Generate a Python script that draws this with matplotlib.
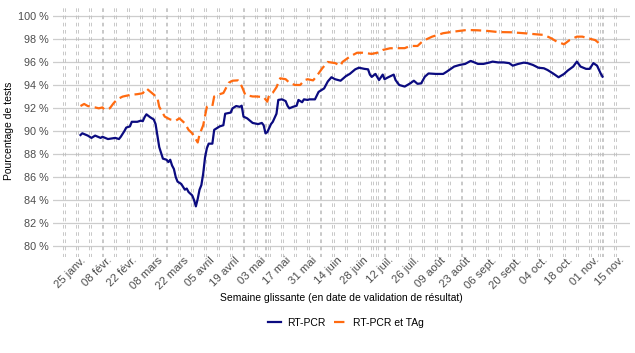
import numpy as np
import pandas as pd
import matplotlib
matplotlib.use("Agg")
import matplotlib.pyplot as plt
from matplotlib.lines import Line2D
from matplotlib.transforms import ScaledTranslation, blended_transform_factory

plt.rcParams.update({
    "font.family": ["Liberation Sans", "DejaVu Sans"],
    "font.size": 7.5,
    "lines.scale_dashes": False,
})

START = pd.Timestamp("2021-01-18")

# RT-PCR, days since 18 Jan 2021 / % of tests
pcr_days = [9, 10, 13, 15, 17, 20, 21, 24, 26, 28, 30, 31, 33, 34, 36, 37, 40, 42, 43, 44,
            45, 47, 49, 50, 51, 52, 53, 54, 56, 57, 58, 59, 60, 61, 62, 64, 66, 67, 68, 70,
            71, 72, 73, 74, 75, 76, 77, 78, 79, 81, 82, 85, 87, 88, 91, 92, 94, 96, 97, 98,
            100, 103, 106, 108, 109, 110, 111, 113, 114, 116, 117, 119, 121, 122, 123, 125, 127, 128, 130, 131,
            133, 134, 137, 139, 142, 144, 146, 148, 151, 154, 156, 159, 161, 164, 166, 167, 168, 170, 172, 174,
            175, 177, 180, 181, 183, 186, 189, 191, 193, 195, 197, 199, 203, 207, 209, 213, 216, 219, 222, 223,
            226, 229, 232, 234, 237, 240, 243, 245, 248, 251, 253, 256, 259, 262, 264, 267, 270, 273, 275, 278,
            280, 282, 285, 287, 289, 291, 293, 294]
pcr_vals = [89.65, 89.8, 89.6, 89.4, 89.6, 89.4, 89.5, 89.3, 89.35, 89.4, 89.3, 89.5, 90.0, 90.3, 90.4, 90.8, 90.8, 90.9, 90.85, 91.2,
            91.45, 91.2, 91.0, 90.6, 89.6, 88.6, 88.1, 87.6, 87.5, 87.3, 87.5, 87.0, 86.7, 86.0, 85.6, 85.4, 84.9, 85.0, 84.7, 84.4,
            84.0, 83.45, 84.1, 84.9, 85.3, 86.3, 87.7, 88.5, 88.9, 88.9, 90.1, 90.4, 90.5, 91.5, 91.6, 91.97, 92.17, 92.1, 92.2, 91.25,
            91.1, 90.7, 90.6, 90.7, 90.5, 89.8, 89.9, 90.6, 90.8, 91.5, 92.7, 92.75, 92.6, 92.2, 91.97, 92.1, 92.2, 92.7, 92.5, 92.75,
            92.7, 92.75, 92.75, 93.4, 93.7, 94.3, 94.67, 94.5, 94.37, 94.78, 94.96, 95.36, 95.5, 95.4, 95.36, 94.9, 94.7, 94.96, 94.43, 94.9,
            94.5, 94.67, 94.9, 94.43, 94.0, 93.86, 94.14, 94.37, 94.1, 94.14, 94.72, 95.0, 94.96, 94.96, 95.16, 95.6, 95.74, 95.83, 96.09, 96.03,
            95.83, 95.83, 95.94, 96.03, 95.96, 95.96, 95.9, 95.68, 95.83, 95.94, 95.9, 95.74, 95.5, 95.45, 95.3, 95.0, 94.67, 94.96, 95.25, 95.6,
            96.03, 95.6, 95.4, 95.4, 95.9, 95.68, 95.0, 94.72]

# RT-PCR et TAg
tag_days = [9, 11, 13, 17, 19, 21, 22, 25, 27, 29, 32, 36, 40, 43, 45, 48, 51, 52, 55, 58,
            61, 63, 66, 68, 70, 73, 74, 76, 78, 81, 82, 85, 87, 90, 92, 95, 97, 99, 103, 105,
            109, 111, 112, 114, 116, 118, 121, 123, 126, 129, 131, 133, 136, 138, 141, 144, 148, 151, 152, 156,
            160, 163, 168, 171, 174, 178, 184, 186, 189, 193, 196, 201, 207, 213, 220, 226, 231, 237, 244, 251,
            258, 262, 266, 269, 273, 276, 280, 283, 286, 290, 294]
tag_vals = [92.17, 92.35, 92.17, 92.05, 91.97, 92.05, 91.87, 91.97, 92.4, 92.75, 92.99, 93.13, 93.2, 93.28, 93.7, 93.3, 92.9, 92.1, 91.25, 91.0,
            90.9, 91.1, 90.67, 90.1, 89.8, 89.0, 89.7, 90.5, 92.1, 92.17, 93.0, 93.2, 93.3, 94.2, 94.37, 94.4, 93.9, 93.13, 93.0, 93.0,
            92.95, 92.55, 93.13, 93.33, 93.8, 94.58, 94.5, 94.2, 94.0, 94.0, 94.4, 94.5, 94.4, 94.78, 95.45, 96.0, 95.9, 95.68, 96.0, 96.46,
            96.8, 96.8, 96.7, 96.8, 97.04, 97.19, 97.2, 97.2, 97.39, 97.39, 97.83, 98.2, 98.5, 98.64, 98.78, 98.75, 98.7, 98.6, 98.58, 98.5,
            98.4, 98.35, 98.06, 97.77, 97.54, 97.9, 98.2, 98.2, 98.06, 97.9, 97.39]

tick_labels = ["25 janv.", "08 févr.", "22 févr.", "08 mars", "22 mars", "05 avril", "19 avril",
               "03 mai", "17 mai", "31 mai", "14 juin", "28 juin", "12 juil.", "26 juil.",
               "09 août", "23 août", "06 sept.", "20 sept.", "04 oct.", "18 oct.", "01 nov.", "15 nov."]
y_ticks = list(range(80, 101, 2))
extra_days = [110, 171, 292]

BLUE = "#0b0b80"
ORANGE = "#ff6a10"
GREY = "#4d4d4d"


def to_dates(days):
    return START + pd.to_timedelta(np.array(days), unit="D")


fig = plt.figure(figsize=(6.35, 3.53), dpi=100)
ax = fig.add_axes([53 / 635, 1 - 257 / 353, 577 / 635, 252 / 353])

# weekly dashed (double) vertical grid
weeks = pd.date_range(START, periods=44, freq="7D")
extras = to_dates(extra_days)
for w in list(weeks) + list(extras):
    for off in (-0.5, 0.5):
        ax.axvline(w + pd.Timedelta(hours=24 * off), color="#bfbfbf", lw=0.6,
                   ls=(0, (2.6, 2.6)), zorder=1)

ax.plot(to_dates(pcr_days), pcr_vals, color=BLUE, lw=1.6, zorder=3,
        solid_joinstyle="round")
ax.plot(to_dates(tag_days), tag_vals, color=ORANGE, lw=1.6, ls=(0, (7.5, 3.6)),
        zorder=3, dash_capstyle="butt")

ax.set_ylim(79.05, 100.95)
ax.set_xlim(START - pd.Timedelta(days=6), START + pd.Timedelta(days=309))
ax.set_yticks(y_ticks)
ax.set_yticklabels([f"{v} %" for v in y_ticks])
ax.yaxis.grid(True, color="#cdcdcd", lw=0.9, zorder=0)
ax.set_axisbelow(True)

# rotated date labels, every second week
ax.set_xticks([])
label_dates = pd.date_range(START + pd.Timedelta(days=7), periods=len(tick_labels), freq="14D")
trans = blended_transform_factory(ax.transData, ax.transAxes) + \
    ScaledTranslation(0.04, 0.02, fig.dpi_scale_trans)
for d, lab in zip(label_dates, tick_labels):
    ax.text(d, 0, lab, transform=trans, rotation=45, rotation_mode="anchor",
            ha="right", va="top", fontsize=8.2, color=GREY, clip_on=False)

ax.tick_params(length=0, colors=GREY, labelsize=7.8)
ax.tick_params(axis="y", pad=3)
for s in ax.spines.values():
    s.set_visible(False)

fig.text(341 / 635, 1 - 298 / 353, "Semaine glissante (en date de validation de résultat)",
         ha="center", va="center", fontsize=7.5)
fig.text(9 / 635, 1 - 131 / 353, "Pourcentage de tests", rotation=90,
         ha="center", va="center", fontsize=7.5)

handles = [Line2D([], [], color=BLUE, lw=1.6),
           Line2D([], [], color=ORANGE, lw=1.6, ls=(0, (7.5, 3.6)))]
fig.legend(handles, ["RT-PCR", "RT-PCR et TAg"], loc="center",
           bbox_to_anchor=(346 / 635, 1 - 323 / 353), ncol=2, frameon=False,
           handlelength=1.25, handletextpad=0.55, columnspacing=0.8, fontsize=7.5)

fig.savefig("out.png", dpi=100)
